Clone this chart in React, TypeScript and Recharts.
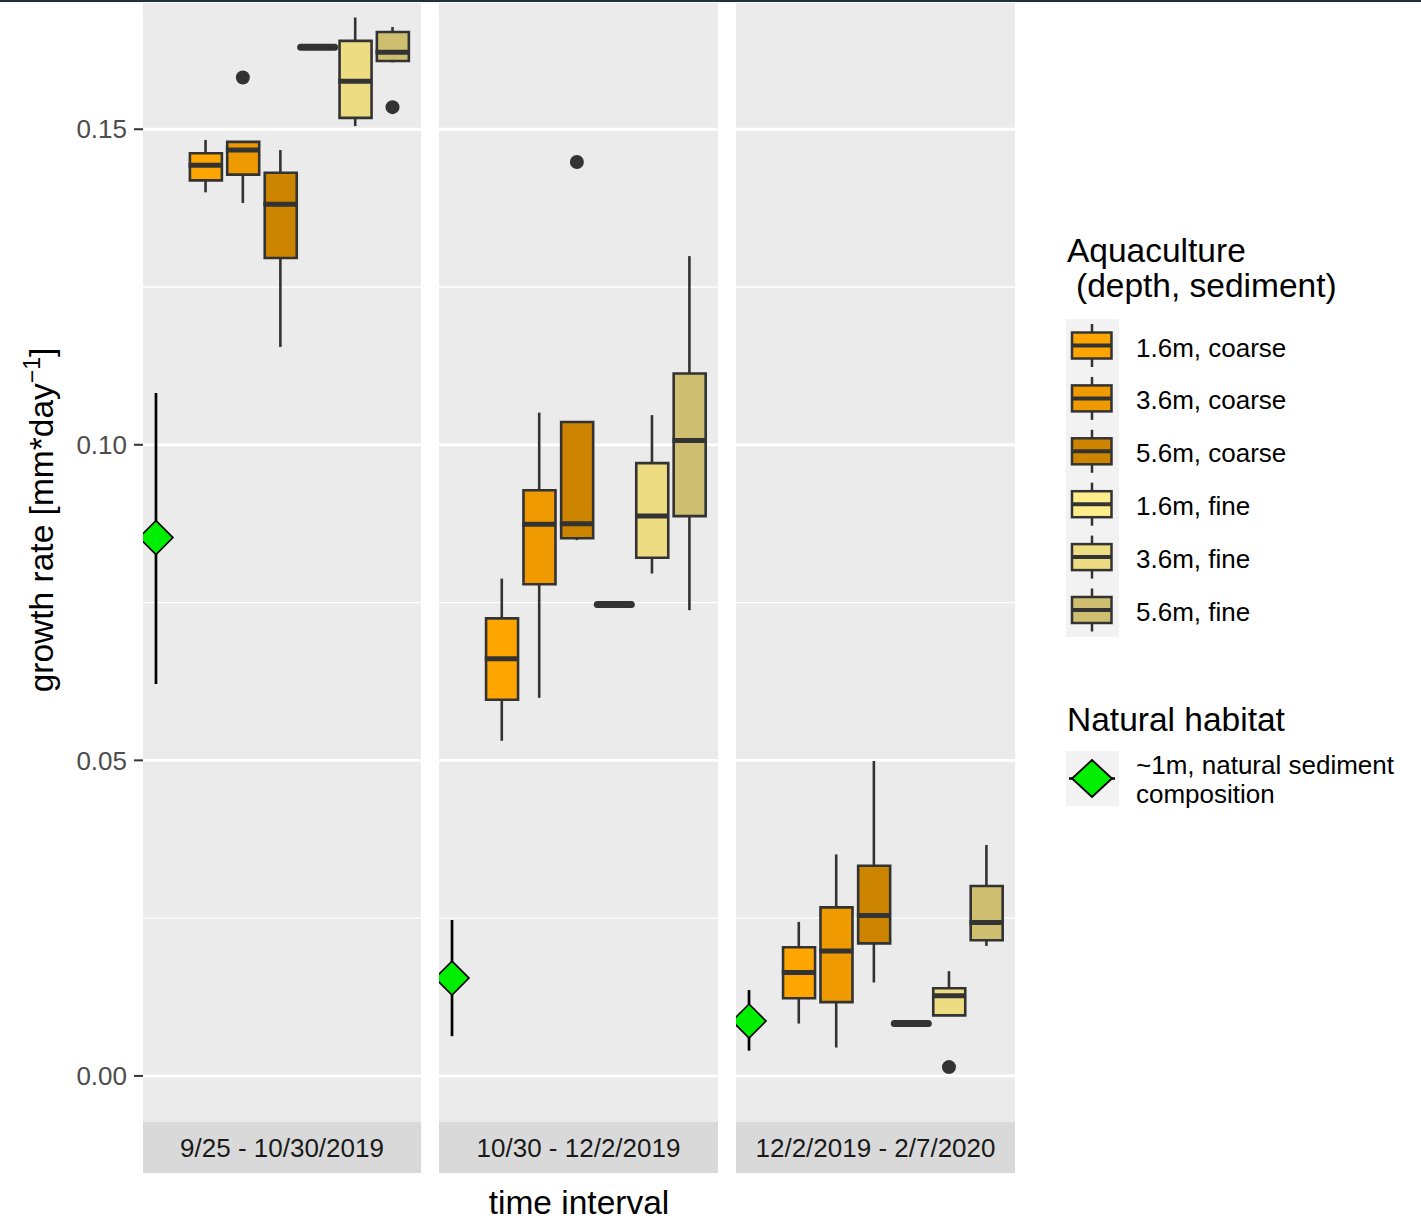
import React from "react";
import {
  ComposedChart,
  Bar,
  Scatter,
  XAxis,
  YAxis,
  CartesianGrid,
  ErrorBar,
  Cell,
} from "recharts";

// facets and groups
const intervals = ["9/25 - 10/30/2019", "10/30 - 12/2/2019", "12/2/2019 - 2/7/2020"];
const treatments = [
  "1.6m, coarse",
  "3.6m, coarse",
  "5.6m, coarse",
  "1.6m, fine",
  "3.6m, fine",
  "5.6m, fine",
];
const boxColors = ["#FFA500", "#EE9A00", "#CD8500", "#FFEC8B", "#EEDC82", "#CDBE70"];

// boxplot stats, one row per interval, one column per treatment
const whiskerLow = [
  [0.14, 0.1383, 0.1155, 0.163, 0.1505, 0.1606],
  [0.0531, 0.0599, 0.0849, 0.0747, 0.0796, 0.0738],
  [0.0083, 0.0045, 0.0148, 0.0083, 0.0096, 0.0206],
];
const lowerQuartile = [
  [0.1419, 0.1428, 0.1296, 0.163, 0.1518, 0.1608],
  [0.0596, 0.0779, 0.0852, 0.0747, 0.0821, 0.0887],
  [0.0123, 0.0117, 0.021, 0.0083, 0.0096, 0.0215],
];
const medians = [
  [0.1443, 0.1467, 0.1381, 0.163, 0.1576, 0.1622],
  [0.0661, 0.0874, 0.0875, 0.0747, 0.0887, 0.1007],
  [0.0164, 0.0198, 0.0254, 0.0083, 0.0127, 0.0243],
];
const upperQuartile = [
  [0.1462, 0.148, 0.1431, 0.163, 0.164, 0.1654],
  [0.0725, 0.0928, 0.1036, 0.0747, 0.0971, 0.1113],
  [0.0204, 0.0267, 0.0333, 0.0083, 0.0139, 0.0301],
];
const whiskerHigh = [
  [0.1483, 0.148, 0.1467, 0.163, 0.1677, 0.1662],
  [0.0788, 0.1051, 0.1036, 0.0747, 0.1047, 0.1299],
  [0.0244, 0.0351, 0.0499, 0.0083, 0.0166, 0.0366],
];

// outliers
const outlierInterval = [0, 0, 1, 2];
const outlierTreatment = [1, 5, 2, 4];
const outlierValue = [0.1582, 0.1535, 0.1448, 0.0014];

// natural habitat (mean and range)
const naturalMean = [0.0853, 0.0155, 0.0087];
const naturalLow = [0.0621, 0.0063, 0.004];
const naturalHigh = [0.1082, 0.0247, 0.0136];

const yTicks = [0, 0.05, 0.1, 0.15];
const yMinor = [0.025, 0.075, 0.125];

// layout
const FONT = "'Liberation Sans', Arial, Helvetica, sans-serif";
const Y_DOMAIN: [number, number] = [-0.0073, 0.17];
const X_DOMAIN: [number, number] = [0.4, 1.6];
const NATURAL_X = 0.456;
const DODGE = [0.67, 0.831, 0.993, 1.154, 1.316, 1.477];
const PANEL_LEFT = [143, 439, 736];
const PANEL_W = [278, 279, 279];
const PANEL_TOP = 3;
const PANEL_H = 1119;
const INK = "#333333";

const MedianShape = (p: any) => (
  <line
    x1={p.cx - 17}
    x2={p.cx + 17}
    y1={p.cy}
    y2={p.cy}
    stroke={INK}
    strokeWidth={p.flat ? 7 : 5}
    strokeLinecap={p.flat ? "round" : "butt"}
  />
);
const NoShape = () => <g />;
const OutlierShape = (p: any) => <circle cx={p.cx} cy={p.cy} r={7} fill={INK} />;
const DiamondShape = (p: any) => {
  const s = 17;
  return (
    <polygon
      points={`${p.cx},${p.cy - s} ${p.cx + s},${p.cy} ${p.cx},${p.cy + s} ${p.cx - s},${p.cy}`}
      fill="#00EE00"
      stroke="#000"
      strokeWidth={1.6}
    />
  );
};

function Panel({ p }: { p: number }) {
  const boxes = treatments.map((t, i) => ({
    x: DODGE[i],
    name: t,
    box: [lowerQuartile[p][i], upperQuartile[p][i]],
  }));
  const medianPts = treatments.map((t, i) => ({
    x: DODGE[i],
    y: medians[p][i],
    flat: lowerQuartile[p][i] === upperQuartile[p][i],
  }));
  const upperW = treatments.map((t, i) => ({
    x: DODGE[i],
    y: upperQuartile[p][i],
    err: [0, whiskerHigh[p][i] - upperQuartile[p][i]],
  }));
  const lowerW = treatments.map((t, i) => ({
    x: DODGE[i],
    y: lowerQuartile[p][i],
    err: [lowerQuartile[p][i] - whiskerLow[p][i], 0],
  }));
  const outPts = outlierValue
    .map((v, k) => ({ k, x: DODGE[outlierTreatment[k]], y: v }))
    .filter((o) => outlierInterval[o.k] === p);
  const natural = [
    {
      x: NATURAL_X,
      y: naturalMean[p],
      err: [naturalMean[p] - naturalLow[p], naturalHigh[p] - naturalMean[p]],
    },
  ];

  const showAxis = p === 0;
  const yw = showAxis ? PANEL_LEFT[0] : 0;

  return (
    <div style={{ position: "absolute", left: showAxis ? 0 : PANEL_LEFT[p], top: PANEL_TOP }}>
      <ComposedChart
        width={PANEL_W[p] + yw}
        height={PANEL_H}
        data={boxes}
        margin={{ top: 0, right: 0, bottom: 0, left: 0 }}
      >
        <CartesianGrid
          fill="#EBEBEB"
          fillOpacity={1}
          stroke="#FFFFFF"
          strokeWidth={1.4}
          vertical={false}
          horizontalValues={yMinor}
        />
        <CartesianGrid stroke="#FFFFFF" strokeWidth={2.8} vertical={false} horizontalValues={yTicks} />
        <XAxis type="number" dataKey="x" domain={X_DOMAIN} allowDataOverflow hide />
        <XAxis xAxisId="pt" type="number" dataKey="x" domain={X_DOMAIN} allowDataOverflow hide />
        <YAxis
          type="number"
          domain={Y_DOMAIN}
          allowDataOverflow
          ticks={yTicks}
          hide={!showAxis}
          width={yw}
          axisLine={false}
          tickLine={{ stroke: INK, strokeWidth: 2 }}
          tickSize={9}
          tickMargin={7}
          tick={{ fill: "#4D4D4D", fontSize: 26, fontFamily: FONT }}
          tickFormatter={(v: number) => v.toFixed(2)}
        />
        <Scatter xAxisId="pt" data={upperW} dataKey="y" shape={NoShape} isAnimationActive={false}>
          <ErrorBar dataKey="err" direction="y" width={0} stroke={INK} strokeWidth={2.6} isAnimationActive={false} />
        </Scatter>
        <Scatter xAxisId="pt" data={lowerW} dataKey="y" shape={NoShape} isAnimationActive={false}>
          <ErrorBar dataKey="err" direction="y" width={0} stroke={INK} strokeWidth={2.6} isAnimationActive={false} />
        </Scatter>
        <Bar dataKey="box" barSize={32} stroke={INK} strokeWidth={2.6} isAnimationActive={false}>
          {boxes.map((b, i) => (
            <Cell key={i} fill={boxColors[i]} />
          ))}
        </Bar>
        <Scatter xAxisId="pt" data={medianPts} dataKey="y" shape={MedianShape} isAnimationActive={false} />
        <Scatter xAxisId="pt" data={outPts} dataKey="y" shape={OutlierShape} isAnimationActive={false} />
        <Scatter xAxisId="pt" data={natural} dataKey="y" shape={NoShape} isAnimationActive={false}>
          <ErrorBar dataKey="err" direction="y" width={0} stroke="#000" strokeWidth={2.7} isAnimationActive={false} />
        </Scatter>
        <Scatter xAxisId="pt" data={natural} dataKey="y" shape={DiamondShape} isAnimationActive={false} />
      </ComposedChart>
    </div>
  );
}

export default function App() {
  const keyY = (i: number) => 345.5 + 52.9 * i;
  return (
    <div
      style={{
        position: "absolute",
        left: 0,
        top: 0,
        width: 1421,
        height: 1218,
        background: "#FFFFFF",
        fontFamily: FONT,
        overflow: "hidden",
      }}
    >
      {intervals.map((_, p) => (
        <Panel key={p} p={p} />
      ))}
      <svg
        width={1421}
        height={1218}
        style={{ position: "absolute", left: 0, top: 0, pointerEvents: "none" }}
        fontFamily={FONT}
      >
        <rect x={0} y={0} width={1421} height={2} fill="#22303A" />
        {/* strips */}
        {intervals.map((label, p) => (
          <g key={p}>
            <rect x={PANEL_LEFT[p]} y={1122} width={PANEL_W[p]} height={51} fill="#D9D9D9" />
            <text
              x={PANEL_LEFT[p] + PANEL_W[p] / 2}
              y={1157}
              textAnchor="middle"
              fontSize={26}
              fill="#1A1A1A"
            >
              {label}
            </text>
          </g>
        ))}
        {/* axis titles */}
        <text x={579} y={1214} textAnchor="middle" fontSize={33.5} fill="#000">
          time interval
        </text>
        <text
          x={53}
          y={520}
          textAnchor="middle"
          fontSize={33.5}
          fill="#000"
          transform="rotate(-90, 53, 520)"
        >
          growth rate [mm*day
          <tspan dy={-13} fontSize={23}>
            −1
          </tspan>
          <tspan dy={13}>]</tspan>
        </text>
        {/* legend: aquaculture */}
        <text x={1067} y={262} fontSize={33.5} fill="#000">
          Aquaculture
        </text>
        <text x={1076} y={297} fontSize={33.5} fill="#000">
          (depth, sediment)
        </text>
        <rect x={1066} y={319} width={53} height={318} fill="#F2F2F2" />
        {treatments.map((t, i) => {
          const cy = keyY(i);
          return (
            <g key={t}>
              <line x1={1092} x2={1092} y1={cy - 21.5} y2={cy + 21.5} stroke={INK} strokeWidth={2.5} />
              <rect x={1072} y={cy - 13} width={39.5} height={26} fill={boxColors[i]} stroke={INK} strokeWidth={2.5} />
              <line x1={1072} x2={1111.5} y1={cy} y2={cy} stroke={INK} strokeWidth={4} />
              <text x={1136} y={cy + 11} fontSize={26} fill="#000">
                {t}
              </text>
            </g>
          );
        })}
        {/* legend: natural habitat */}
        <text x={1067} y={731} fontSize={33.5} fill="#000">
          Natural habitat
        </text>
        <rect x={1066} y={751} width={53} height={55} fill="#F2F2F2" />
        <line x1={1069} x2={1115} y1={778.5} y2={778.5} stroke="#000" strokeWidth={2.5} />
        <polygon
          points="1092,760 1112,778.5 1092,797 1072,778.5"
          fill="#00EE00"
          stroke="#000"
          strokeWidth={1.8}
        />
        <text x={1136} y={774} fontSize={26} fill="#000">
          ~1m, natural sediment
        </text>
        <text x={1136} y={803} fontSize={26} fill="#000">
          composition
        </text>
      </svg>
    </div>
  );
}
